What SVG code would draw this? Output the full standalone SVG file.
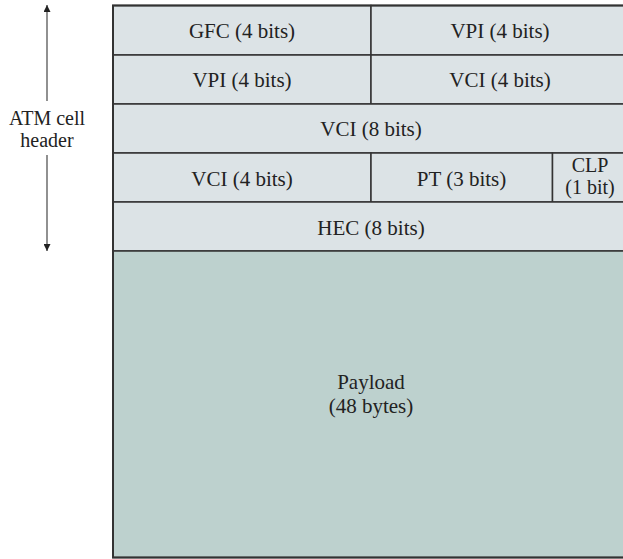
<svg xmlns="http://www.w3.org/2000/svg" width="623" height="559" viewBox="0 0 623 559">
<style>
  .hdr { fill: #dce3e6; stroke: #333; stroke-width: 1.5; }
  .pay { fill: #bdd1ce; stroke: #333; stroke-width: 1.5; }
  .t { font-family: "Liberation Serif", "Times New Roman", serif; font-size: 21px; fill: #222; text-anchor: middle; }
  .t2 { font-size: 20px; }
  .arr { stroke: #555; stroke-width: 1.3; fill: none; }
</style>
<defs>
  <marker id="ah" viewBox="0 0 10 10" refX="10" refY="5" markerWidth="11" markerHeight="7" markerUnits="userSpaceOnUse" orient="auto">
    <path d="M0,0 L10,5 L0,10 z" fill="#222"/>
  </marker>
</defs>
<rect x="0" y="0" width="623" height="559" fill="#fff"/>

<g id="gfc"><rect class="hdr" x="113" y="5.5" width="258" height="49.5"/><text class="t" x="242" y="38">GFC (4 bits)</text></g>
<g id="vpi1"><rect class="hdr" x="371" y="5.5" width="258" height="49.5"/><text class="t" x="500" y="38">VPI (4 bits)</text></g>
<g id="vpi2"><rect class="hdr" x="113" y="55" width="258" height="49"/><text class="t" x="242" y="87">VPI (4 bits)</text></g>
<g id="vci1"><rect class="hdr" x="371" y="55" width="258" height="49"/><text class="t" x="500" y="87">VCI (4 bits)</text></g>
<g id="vci8"><rect class="hdr" x="113" y="104" width="516" height="49"/><text class="t" x="371" y="136">VCI (8 bits)</text></g>
<g id="vci2"><rect class="hdr" x="113" y="153" width="258" height="49"/><text class="t" x="242" y="186">VCI (4 bits)</text></g>
<g id="pt"><rect class="hdr" x="371" y="153" width="181.5" height="49"/><text class="t" x="461.5" y="186">PT (3 bits)</text></g>
<g id="clp"><rect class="hdr" x="552.5" y="153" width="76.5" height="49"/><text class="t t2" x="590" y="172">CLP</text><text class="t t2" x="590" y="194">(1 bit)</text></g>
<g id="hec"><rect class="hdr" x="113" y="202" width="516" height="49"/><text class="t" x="371" y="235">HEC (8 bits)</text></g>
<g id="payload"><rect class="pay" x="113" y="251" width="516" height="306.5"/><text class="t" x="371" y="389">Payload</text><text class="t" x="371" y="413">(48 bytes)</text></g>

<rect x="113" y="5.5" width="516" height="552" fill="none" stroke="#333" stroke-width="2"/>

<g id="label"><text class="t t2" x="47" y="124.5">ATM cell</text><text class="t t2" x="47" y="147">header</text></g>

<g id="connectors">
  <line class="arr" x1="47" y1="101" x2="47" y2="5" marker-end="url(#ah)"/>
  <line class="arr" x1="47" y1="155" x2="47" y2="251" marker-end="url(#ah)"/>
</g>
</svg>
